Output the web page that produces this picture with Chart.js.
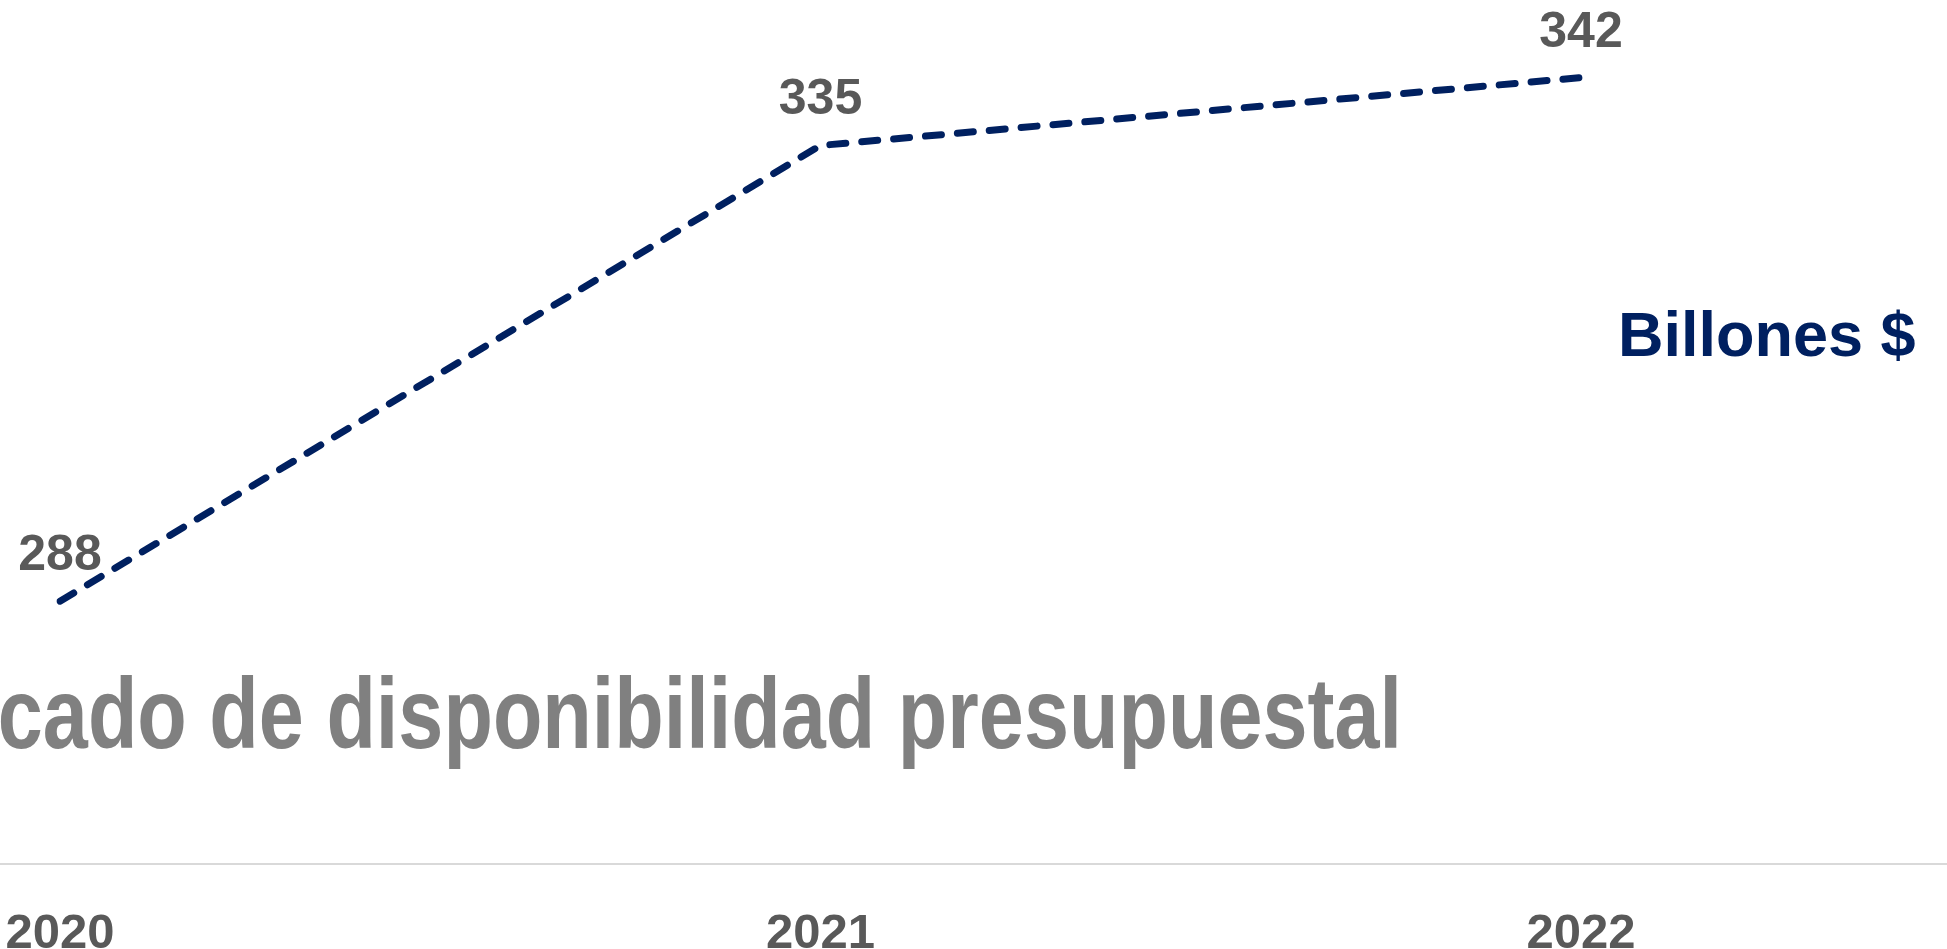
<!DOCTYPE html>
<html>
<head>
<meta charset="utf-8">
<script src="https://cdn.jsdelivr.net/npm/chart.js@4"></script>
<style>
  body { margin: 0; background: #ffffff; }
  #wrap { width: 1947px; height: 949px; position: relative; }
</style>
</head>
<body>
<div id="wrap"><canvas id="cdpChart"></canvas></div>
<script>
const years = ["2020", "2021", "2022"];
const valores = [288, 335, 342];
const unidad = "Billones $";
const titulo = "Certificado de disponibilidad presupuestal";

// texto grande, unidad y linea del eje a lo ancho
const fondo = {
    id: "fondo",
    beforeDatasetsDraw(chart) {
        const ctx = chart.ctx;
        const xScale = chart.scales.x;
        ctx.save();

        ctx.strokeStyle = "#d9d9d9";
        ctx.lineWidth = 2;
        ctx.beginPath();
        ctx.moveTo(0, xScale.top + 1);
        ctx.lineTo(chart.width, xScale.top + 1);
        ctx.stroke();

        ctx.fillStyle = "#808080";
        ctx.font = "bold 100px 'Liberation Sans', Arial, sans-serif";
        ctx.textAlign = "right";
        ctx.textBaseline = "alphabetic";
        ctx.translate(1402, 748);
        ctx.scale(0.81, 1);
        ctx.fillText(titulo, 0, 0);
        ctx.restore();

        ctx.save();
        ctx.fillStyle = "#002060";
        ctx.font = "bold 63px 'Liberation Sans', Arial, sans-serif";
        ctx.textAlign = "left";
        ctx.textBaseline = "alphabetic";
        ctx.fillText(unidad, 1618, 356);
        ctx.restore();
    }
};

// etiquetas de valor sobre cada punto
const etiquetas = {
    id: "etiquetas",
    afterDatasetsDraw(chart) {
        const ctx = chart.ctx;
        const meta = chart.getDatasetMeta(0);
        ctx.save();
        ctx.fillStyle = "#595959";
        ctx.font = "bold 50px 'Liberation Sans', Arial, sans-serif";
        ctx.textAlign = "center";
        ctx.textBaseline = "alphabetic";
        meta.data.forEach((pt, i) => {
            ctx.fillText(String(valores[i]), pt.x, pt.y - 31);
        });
        ctx.restore();
    }
};

const ctx = document.getElementById("cdpChart").getContext("2d");
const chart = new Chart(ctx, {
    type: "line",
    data: {
        labels: years,
        datasets: [{
            label: unidad,
            data: valores,
            borderColor: "#002060",
            borderWidth: 7,
            borderDash: [16, 16],
            borderCapStyle: "round",
            borderJoinStyle: "round",
            pointRadius: 0,
            tension: 0,
            fill: false
        }]
    },
    options: {
        responsive: true,
        maintainAspectRatio: false,
        animation: false,
        layout: {
            autoPadding: false,
            padding: { left: 60, right: 366, top: 0, bottom: -10 }
        },
        plugins: {
            legend: { display: false },
            tooltip: { enabled: false }
        },
        scales: {
            x: {
                offset: false,
                grid: {
                    display: true,
                    drawOnChartArea: false,
                    drawTicks: true,
                    tickLength: 47,
                    color: "rgba(0,0,0,0)"
                },
                border: { display: false },
                ticks: {
                    color: "#595959",
                    padding: 0,
                    maxRotation: 0,
                    font: { family: "'Liberation Sans', Arial, sans-serif", size: 49, weight: "bold", lineHeight: 1 }
                }
            },
            y: {
                display: false,
                min: 261,
                max: 350
            }
        }
    },
    plugins: [fondo, etiquetas]
});
</script>
</body>
</html>
